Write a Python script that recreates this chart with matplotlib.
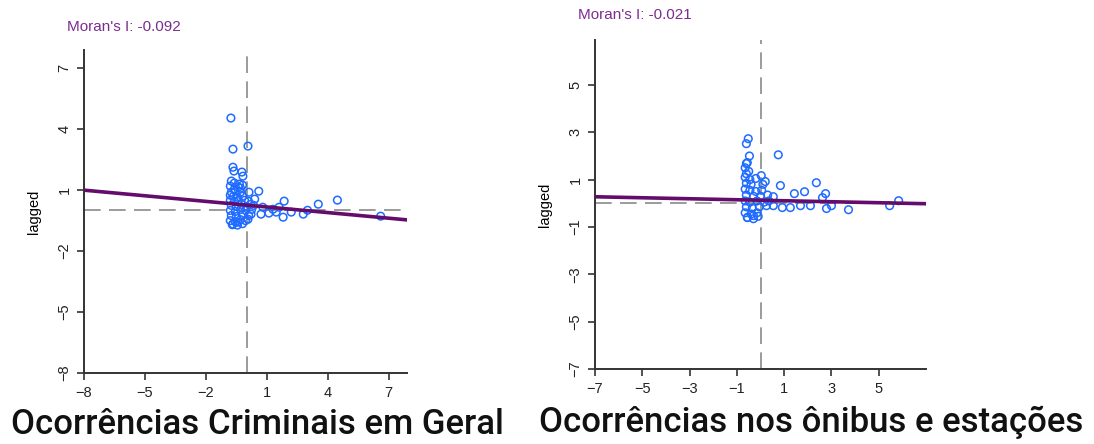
# Moran scatterplots (lagged vs. standardized values)

import matplotlib
matplotlib.use("Agg")
import matplotlib.pyplot as plt
import numpy as np

# left panel: Ocorrencias Criminais em Geral
x_left = [-0.77, -0.67, 0.07, -0.67, -0.62, -0.23, -0.18, 0.12, 0.6, 0.4, 1.85, 3.53,
          4.47, 6.6, 1.8, 2.79, 2.2, 3.0, 1.46, 1.1, 0.71, 1.6, 1.3, -0.67, -0.43, 0.07,
          0.22, 0.8,
          -0.75, -0.6, -0.35, -0.3, -0.8, -0.6, -0.4, -0.2, -0.75, -0.55, -0.3, -0.8, -0.65,
          -0.45, -0.2, -0.8, -0.6, -0.4, -0.1, 0.1, -0.75, -0.5, -0.25, 0.0, 0.2, 0.35, -0.8,
          -0.55, -0.3, -0.05, 0.25, -0.75, -0.5, -0.2, 0.1, -0.8, -0.55, -0.3, -0.05, -0.7,
          -0.45, -0.2]
y_left = [4.55, 3.02, 3.17, 2.13, 1.94, 1.89, 1.69, 0.9, 0.95, 0.56, 0.46, 0.31,
          0.51, -0.28, -0.33, -0.18, -0.08, 0.01, -0.08, -0.13, -0.18, 0.16, 0.06, -0.67, -0.58, -0.43,
          -0.18, 0.16,
          1.45, 1.35, 1.3, 1.1, 1.2, 1.05, 1.15, 1.25, 0.9, 0.95, 0.9, 0.75, 0.7,
          0.65, 0.7, 0.5, 0.45, 0.5, 0.5, 0.45, 0.25, 0.2, 0.3, 0.2, 0.3, 0.25, 0.0,
          -0.05, 0.05, 0.0, 0.05, -0.25, -0.3, -0.2, -0.25, -0.5, -0.55, -0.45, -0.5, -0.7,
          -0.72, -0.65]
moran_left = -0.092
icpt_left = 0.264

# right panel: Ocorrencias nos onibus e estacoes
x_right = [-0.52, -0.6, 0.75, -0.47, -0.6, -0.56, -0.6, 0.03, 0.2, 0.84, 2.36, 1.86,
           1.43, 2.75, 2.62, 5.84, 5.46, 3.72, 2.79, 3.0, 2.11, 1.69, 1.26, 0.92, 0.54,
           0.54, -0.56, -0.3,
           -0.65, -0.5, -0.65, -0.45, -0.2, -0.6, -0.4, 0.1, -0.65, -0.45, -0.2, 0.05,
           -0.6, -0.3, 0.0, 0.3, -0.65, -0.45, -0.15, 0.15, 0.35, -0.6, -0.35, -0.05,
           0.25, -0.65, -0.4, -0.15, -0.55, -0.3, -0.1]
y_right = [2.73, 2.52, 2.05, 2.0, 1.68, 1.72, 1.25, 1.17, 0.92, 0.75, 0.87, 0.49,
           0.41, 0.41, 0.24, 0.11, -0.1, -0.27, -0.22, -0.1, -0.1, -0.1, -0.18, -0.18, -0.1,
           0.28, -0.6, -0.52,
           1.5, 1.35, 1.1, 1.0, 1.05, 0.85, 0.8, 0.8, 0.6, 0.55, 0.5, 0.55,
           0.35, 0.3, 0.3, 0.35, 0.1, 0.05, 0.1, 0.05, 0.1, -0.15, -0.2, -0.15,
           -0.1, -0.4, -0.45, -0.4, -0.6, -0.65, -0.55]
moran_right = -0.021
icpt_right = 0.13

panels = [
    dict(x=x_left, y=y_left, slope=moran_left, icpt=icpt_left,
         lim=(-8, 7.9), yl=(-8, 7.9), ticks=[-8, -5, -2, 1, 4, 7],
         yticks=[-8, -5, -2, 1, 4, 7],
         rect=[0.0768, 0.1599, 0.2953, 0.7275],
         title="Ocorrências Criminais em Geral", tx=257, ty=424,
         mx=67, my=27),
    dict(x=x_right, y=y_right, slope=moran_right, icpt=icpt_right,
         lim=(-7, 7.0), yl=(-7, 6.9), ticks=[-7, -5, -3, -1, 1, 3, 5],
         yticks=[-7, -5, -3, -1, 1, 3, 5],
         rect=[0.5439, 0.1689, 0.3026, 0.741],
         title="Ocorrências nos ônibus e estações", tx=811, ty=422,
         mx=578, my=15),
]

W, H = 1094, 444
fig = plt.figure(figsize=(W / 100, H / 100), dpi=100)
plt.rcParams['font.family'] = ['Liberation Sans', 'DejaVu Sans']

for p in panels:
    ax = fig.add_axes(p["rect"])
    ax.set_xlim(p["lim"])
    ax.set_ylim(p["yl"])
    ax.axvline(0, color="#8a8a8a", lw=1.2, ls=(0, (10, 5)), zorder=1)
    ax.axhline(0, color="#8a8a8a", lw=1.2, ls=(0, (10, 5)), zorder=1)
    ax.scatter(p["x"], p["y"], s=30, facecolors="none", edgecolors="#1f6bff",
               linewidths=1.1, zorder=2)
    xs = np.array(p["lim"])
    ax.plot(xs, p["icpt"] + p["slope"] * xs, color="#640c6c", lw=2.6, zorder=3)

    for s in ["top", "right"]:
        ax.spines[s].set_visible(False)
    for s in ["left", "bottom"]:
        ax.spines[s].set_color("#333333")
        ax.spines[s].set_linewidth(1.4)
    ax.set_xticks(p["ticks"])
    ax.set_yticks(p["yticks"])
    ax.tick_params(length=5, width=1.2, color="#333333", labelsize=10.5, pad=4,
                   labelcolor="#222222")
    for lab in ax.get_yticklabels():
        lab.set_rotation(90)
        lab.set_va("center")
    ax.set_ylabel("lagged", fontsize=10.5, labelpad=12)

    fig.text(p["mx"] / W, 1 - p["my"] / H, f"Moran's I: {p['slope']:.3f}",
             color="#7b2d8e", fontsize=11, ha="left", va="center")
    fig.text(p["tx"] / W, 1 - p["ty"] / H, p["title"], fontsize=25, family="Roboto",
             fontweight="medium", ha="center", va="center", color="#111111")

fig.savefig("out.png", dpi=100)
